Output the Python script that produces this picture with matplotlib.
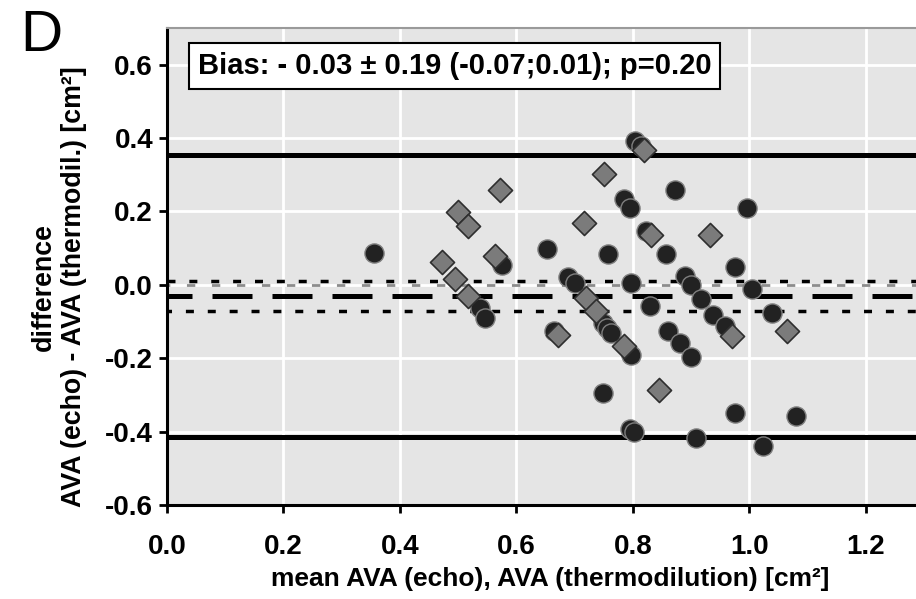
import matplotlib
matplotlib.use('Agg')
import matplotlib.pyplot as plt
import numpy as np

# Bland-Altman data
circle_x = [0.356, 0.537, 0.546, 0.575, 0.652, 0.664, 0.689, 0.700, 0.749, 0.755,
            0.763, 0.749, 0.758, 0.784, 0.795, 0.796, 0.797, 0.795, 0.802, 0.803,
            0.813, 0.823, 0.829, 0.856, 0.861, 0.872, 0.880, 0.889, 0.900, 0.900,
            0.909, 0.916, 0.937, 0.958, 0.975, 0.975, 0.995, 1.005, 1.023, 1.038,
            1.080]
circle_y = [0.086, -0.062, -0.089, 0.053, 0.099, -0.127, 0.021, 0.005, -0.104, -0.118,
            -0.131, -0.294, 0.085, 0.234, 0.210, 0.004, -0.190, -0.392, -0.400, 0.392,
            0.378, 0.146, -0.057, 0.085, -0.127, 0.259, -0.158, 0.023, -0.001, -0.196,
            -0.418, -0.038, -0.081, -0.113, 0.049, -0.350, 0.210, -0.011, -0.440, -0.077,
            -0.357]

diamond_x = [0.472, 0.495, 0.500, 0.517, 0.517, 0.563, 0.572, 0.672, 0.716, 0.720,
             0.737, 0.750, 0.784, 0.819, 0.831, 0.845, 0.933, 0.970, 1.065]
diamond_y = [0.063, 0.016, 0.199, 0.160, -0.031, 0.078, 0.259, -0.137, 0.168, -0.036,
             -0.072, 0.301, -0.168, 0.368, 0.137, -0.287, 0.136, -0.140, -0.127]

bias = -0.03
ci_low, ci_high = -0.07, 0.01
loa_upper, loa_lower = 0.355, -0.415

x_ticks = [0.0, 0.2, 0.4, 0.6, 0.8, 1.0, 1.2]
y_ticks = [-0.6, -0.4, -0.2, 0.0, 0.2, 0.4, 0.6]

plt.rcParams['font.family'] = 'Liberation Sans'
plt.rcParams['font.weight'] = 'bold'

W, H = 916, 599
fig = plt.figure(figsize=(W / 100, H / 100), dpi=100)
ax = fig.add_axes([167 / W, 1 - 505 / H, (W - 167) / W, (505 - 28) / H])

ax.set_facecolor('#e5e5e5')
ax.set_xlim(0, 1.286)
ax.set_ylim(-0.6, 0.70)
ax.set_xticks(x_ticks)
ax.set_yticks(y_ticks)
ax.set_xticklabels(['%.1f' % t for t in x_ticks])
ax.set_yticklabels(['%.1f' % t for t in y_ticks])
ax.grid(True, color='white', linewidth=2.0, zorder=0)
ax.set_axisbelow(True)

ax.tick_params(axis='both', direction='out', length=6, width=2, labelsize=20)
ax.tick_params(axis='y', pad=4)
ax.tick_params(axis='x', pad=15)
for side in ['left', 'bottom']:
    ax.spines[side].set_linewidth(2.2)
    ax.spines[side].set_color('black')
ax.spines['top'].set_color('#9a9a9a')
ax.spines['top'].set_linewidth(1.5)
ax.spines['right'].set_visible(False)

# reference lines
ax.axhline(0.0, color='#8c8c8c', linewidth=2.0, linestyle=(2, (3, 6)), zorder=2)
ax.axhline(ci_high, color='black', linewidth=2.5, linestyle=(0, (2.3, 4.0)), zorder=2)
ax.axhline(ci_low, color='black', linewidth=2.5, linestyle=(1, (2.3, 4.0)), zorder=2)
ax.axhline(bias, color='black', linewidth=3.6, linestyle=(3, (8, 4)), zorder=2)
ax.axhline(loa_upper, color='black', linewidth=3.6, zorder=2)
ax.axhline(loa_lower, color='black', linewidth=3.6, zorder=2)

ax.scatter(circle_x, circle_y, s=190, marker='o', facecolor='#222222',
           edgecolor='#7f7f7f', linewidth=1.0, zorder=3)
ax.scatter(diamond_x, diamond_y, s=150, marker='D', facecolor='#7b7b7b',
           edgecolor='#2e2e2e', linewidth=1.2, zorder=4)

fig.text(198 / W, 1 - 66 / H, 'Bias: - 0.03 \u00b1 0.19 (-0.07;0.01); p=0.20',
         fontsize=21, fontweight='bold', ha='left', va='center',
         bbox=dict(boxstyle='square,pad=0.3', facecolor='white', edgecolor='black', linewidth=1.5))

fig.text(20 / W, 1 - 51 / H, 'D', fontsize=42, fontweight='normal', ha='left', va='baseline')

fig.text(59 / W, 1 - 287 / H, 'difference\nAVA (echo) - AVA (thermodil.) [cm\u00b2]',
         rotation=90, ha='center', va='center', multialignment='center',
         fontsize=19.3, fontweight='bold', linespacing=1.2)

fig.text(550 / W, 1 - 579 / H, 'mean AVA (echo), AVA (thermodilution) [cm\u00b2]',
         ha='center', va='center', fontsize=19, fontweight='bold')

fig.savefig('out.png', dpi=100)
